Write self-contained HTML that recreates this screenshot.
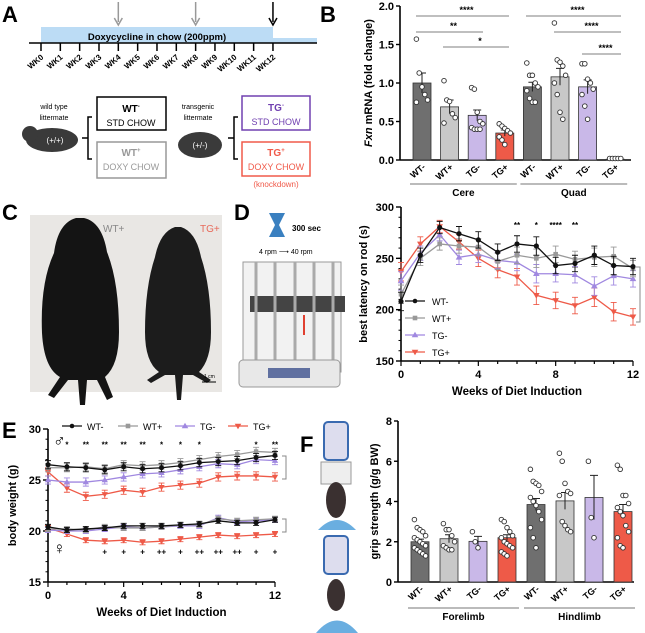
<!DOCTYPE html>
<html><head><meta charset="utf-8"><style>
html,body{margin:0;padding:0;background:#fff;}
svg{display:block;font-family:"Liberation Sans",Arial,sans-serif;}
</style></head><body>
<svg id="fig" width="645" height="633" viewBox="0 0 645 633" xmlns="http://www.w3.org/2000/svg">
<!-- Panel A -->
<g>
<text x="2" y="22" font-size="22" font-weight="bold">A</text>
<rect x="41" y="27" width="232" height="16" fill="#bcdcf5"/>
<rect x="273" y="38" width="44" height="5" fill="#bcdcf5"/>
<text x="157" y="40" font-size="9.5" font-weight="bold" text-anchor="middle">Doxycycline in chow (200ppm)</text>
<line x1="29" y1="43" x2="317" y2="43" stroke="#000" stroke-width="1.5"/>
<g id="tl"></g>
</g>
<g>
<text x="54" y="109" font-size="7" text-anchor="middle">wild type</text>
<text x="54" y="120" font-size="7" text-anchor="middle">littermate</text>
<ellipse cx="52" cy="140" rx="26" ry="12" fill="#3a3a3a"/>
<circle cx="30" cy="134" r="8" fill="#3a3a3a"/>
<text x="55" y="143" font-size="8" fill="#fff" text-anchor="middle">(+/+)</text>
<path d="M92 117 h-4 v42 h4 M88 138 h-6" stroke="#000" fill="none" stroke-width="1.5"/>
<rect x="97" y="97" width="69" height="33" fill="none" stroke="#000" stroke-width="1.5"/>
<text x="131" y="112" font-size="10" font-weight="bold" text-anchor="middle">WT<tspan font-size="6" dy="-4">-</tspan></text>
<text x="131" y="126" font-size="9" text-anchor="middle">STD CHOW</text>
<rect x="97" y="142" width="69" height="36" fill="none" stroke="#999" stroke-width="1.5"/>
<text x="131" y="156" font-size="10" font-weight="bold" fill="#999" text-anchor="middle">WT<tspan font-size="6" dy="-4">+</tspan></text>
<text x="131" y="170" font-size="9" fill="#999" text-anchor="middle">DOXY CHOW</text>
<text x="198" y="109" font-size="7" text-anchor="middle">transgenic</text>
<text x="198" y="120" font-size="7" text-anchor="middle">littermate</text>
<ellipse cx="200" cy="145" rx="22" ry="13" fill="#3a3a3a"/>
<text x="200" y="148" font-size="8" fill="#fff" text-anchor="middle">(+/-)</text>
<path d="M238 117 h-4 v42 h4 M234 138 h-6" stroke="#000" fill="none" stroke-width="1.5"/>
<rect x="242" y="96" width="68" height="34" fill="none" stroke="#7040b0" stroke-width="1.5"/>
<text x="276" y="111" font-size="10" font-weight="bold" fill="#7040b0" text-anchor="middle">TG<tspan font-size="6" dy="-4">-</tspan></text>
<text x="276" y="125" font-size="9" fill="#7040b0" text-anchor="middle">STD CHOW</text>
<rect x="242" y="142" width="68" height="34" fill="none" stroke="#f05a4a" stroke-width="1.5"/>
<text x="276" y="156" font-size="10" font-weight="bold" fill="#f05a4a" text-anchor="middle">TG<tspan font-size="6" dy="-4">+</tspan></text>
<text x="276" y="170" font-size="9" fill="#f05a4a" text-anchor="middle">DOXY CHOW</text>
<text x="276" y="187" font-size="8" fill="#f05a4a" text-anchor="middle">(knockdown)</text>
</g>
<!-- Panel C -->
<g>
<text x="2" y="220" font-size="22" font-weight="bold">C</text>
<rect x="30" y="215" width="192" height="177" fill="#e9e7e4"/>
<path d="M76 218 q-18 5 -22 35 q-14 30 -12 80 q2 35 18 44 l-12 18 l6 3 l14 -18 l10 0 l2 25 l5 0 l2 -25 l10 0 l10 20 l6 -3 l-8 -20 q14 -12 14 -45 q0 -50 -12 -80 q-5 -30 -23 -34z" fill="#141414"/>
<path d="M175 227 q-15 5 -20 30 q-10 30 -10 75 q0 30 14 40 l-12 8 l4 3 l14 -8 l10 0 l2 25 l4 0 l2 -25 l10 0 l14 8 l4 -3 l-12 -8 q12 -12 12 -40 q0 -45 -10 -75 q-5 -25 -20 -30z" fill="#1c1c1c"/>
<text x="103" y="232" font-size="10" fill="#888">WT+</text>
<text x="200" y="232" font-size="10" fill="#e86a5a">TG+</text>
<line x1="202" y1="382" x2="216" y2="382" stroke="#000"/><text x="204" y="378" font-size="5">1 cm</text>
</g>
<!-- Panel D schematic -->
<g>
<text x="234" y="220" font-size="22" font-weight="bold">D</text>
<path d="M269 213 h16 l-6 12 l6 12 h-16 l6 -12z" fill="#3a80c0"/>
<text x="292" y="231" font-size="8" font-weight="bold">300 sec</text>
<text x="259" y="254" font-size="7">4 rpm ⟶ 40 rpm</text>
<rect x="243" y="262" width="98" height="110" fill="#f2f2f2" stroke="#999"/>
<rect x="250" y="296" width="95" height="16" fill="#444"/>
<g stroke="#aaa" stroke-width="3"><line x1="256" y1="262" x2="256" y2="370"/><line x1="275" y1="262" x2="275" y2="370"/><line x1="295" y1="262" x2="295" y2="370"/><line x1="314" y1="262" x2="314" y2="370"/><line x1="333" y1="262" x2="333" y2="370"/></g>
<rect x="239" y="360" width="101" height="27" rx="4" fill="#e8e8e8" stroke="#999"/>
<rect x="268" y="368" width="42" height="10" fill="#6070a0"/>
<line x1="304" y1="315" x2="304" y2="335" stroke="#e04030" stroke-width="2"/>
</g>
<!-- Panel F schematic -->
<g>
<text x="300" y="452" font-size="22" font-weight="bold">F</text>
<rect x="324" y="422" width="24" height="38" rx="4" fill="#dde" stroke="#3a6ab0" stroke-width="2"/>
<rect x="321" y="462" width="30" height="22" fill="#eee" stroke="#999"/>
<ellipse cx="336" cy="500" rx="10" ry="18" fill="#3a3030"/>
<path d="M318 530 q19 -20 38 0 z" fill="#6aaee0"/>
<rect x="324" y="536" width="24" height="38" rx="4" fill="#dde" stroke="#3a6ab0" stroke-width="2"/>
<ellipse cx="336" cy="595" rx="9" ry="16" fill="#3a3030"/>
<path d="M316 633 q21 -25 42 0 z" fill="#6aaee0"/>
</g>
<text x="320" y="22" font-size="22" font-weight="bold">B</text>
<text x="2" y="438" font-size="22" font-weight="bold">E</text>
<g id="pb"></g>
<g id="pd"></g>
<g id="pe"></g>
<g id="pf"></g>
</svg>
<script>
const NS="http://www.w3.org/2000/svg";
function mk(p,t,a,txt){const e=document.createElementNS(NS,t);for(const k in a)e.setAttribute(k,a[k]);if(txt!==undefined)e.textContent=txt;p.appendChild(e);return e;}

// ---------- Data ----------
const tlWeeks=["WK0","WK1","WK2","WK3","WK4","WK5","WK6","WK7","WK8","WK9","WK10","WK11","WK12"];
const arrowWeeks=[4,8,12];

const bCats=["WT-","WT+","TG-","TG+","WT-","WT+","TG-","TG+"];
const bMeans=[1.0,0.69,0.58,0.35,0.95,1.08,0.95,0.01];
const bErr=[0.13,0.09,0.07,0.04,0.06,0.11,0.09,0.0];
const bPts=[[1.57,1.13,0.95,0.85,0.78,0.75],[1.03,0.78,0.76,0.6,0.55,0.48],[0.94,0.92,0.62,0.5,0.47,0.42,0.4,0.4,0.4],[0.47,0.44,0.41,0.38,0.35,0.3,0.26,0.2],[1.26,1.1,1.1,1.0,0.95,0.9,0.8,0.75,0.75],[1.78,1.3,1.27,1.22,1.1,1.0,0.85,0.62,0.53],[1.25,1.25,1.05,1.0,0.92,0.85,0.7,0.53],[0.02,0.02,0.02,0.02,0.02]];
const bTicks=[0,0.5,1.0,1.5,2.0];

const wks=[0,1,2,3,4,5,6,7,8,9,10,11,12];
const dWTm=[208,253,280,274,268,256,264,262,243,245,253,243,242];
const dWTp=[215,250,264,262,261,247,253,250,254,249,251,252,240];
const dTGm=[228,255,273,251,254,248,246,235,235,234,223,233,230];
const dTGp=[237,264,281,266,250,239,232,214,209,204,212,198,193];
const dErr=[9,7,6,7,8,8,8,9,8,8,9,9,8];
const dTicks=[150,200,250,300];

const eMWTm=[26.5,26.3,26.2,26.0,26.3,26.1,26.2,26.4,26.7,26.8,26.9,27.2,27.4];
const eMWTp=[26.2,26.2,26.3,26.1,26.5,26.4,26.5,26.7,27.0,27.3,27.5,27.8,27.7];
const eMTGm=[25.0,24.8,24.8,25.0,25.3,25.6,25.7,26.0,26.3,26.6,26.5,27.0,26.9];
const eMTGp=[25.8,24.2,23.4,23.6,24.0,23.8,24.3,24.5,24.7,25.3,25.4,25.4,25.3];
const eFWTm=[20.4,20.1,20.2,20.3,20.5,20.5,20.5,20.6,20.7,21.0,20.8,20.8,21.1];
const eFWTp=[20.2,20.2,20.1,20.4,20.3,20.3,20.4,20.6,20.6,21.2,21.0,21.1,21.2];
const eFTGm=[20.1,20.0,20.0,20.2,20.4,20.3,20.4,20.5,20.5,21.3,20.9,21.0,21.1];
const eFTGp=[20.3,19.7,19.1,19.0,19.1,18.9,19.0,19.2,19.4,19.6,19.5,19.6,19.7];
const eTicks=[15,20,25,30];
const eStarM=["","*","**","**","**","**","*","*","*","","","*","**"];
const eStarF=["","","","+","+","+","++","+","++","++","++","+","+"];

const fCats=["WT-","WT+","TG-","TG+","WT-","WT+","TG-","TG+"];
const fMeans=[2.0,2.15,2.02,2.2,3.85,4.03,4.2,3.5];
const fErr=[0.13,0.2,0.25,0.15,0.3,0.42,1.1,0.35];
const fPts=[[3.1,2.7,2.6,2.5,2.3,2.2,2.1,2.0,1.9,1.8,1.7,1.6,1.5,1.4,1.3],[2.9,2.6,2.6,2.3,2.0,1.8,1.7,1.6,1.6],[2.5,2.0,1.7],[3.1,3.0,2.7,2.5,2.3,2.2,2.0,1.9,1.8,1.7,1.5,1.4,1.3],[5.6,5.0,4.9,4.8,4.5,4.2,4.0,3.8,3.5,3.1,2.7,2.2,1.7],[6.4,6.0,4.9,4.5,4.4,4.3,3.0,2.8,2.6,2.5],[6.0,3.2,2.2],[5.8,5.6,4.3,4.3,3.9,3.7,3.5,3.3,2.8,2.5,2.2,1.8,1.7]];
const fTicks=[0,2,4,6,8];

const fills=["#6f6f6f","#c8c8c8","#c9b8e8","#ee5a48","#6f6f6f","#c8c8c8","#c9b8e8","#ee5a48"];

// ---------- Panel A timeline ----------
(function(){
  const g=document.getElementById('tl');
  const tx=i=>41+i*19.33;
  tlWeeks.forEach((w,i)=>{
    const l=mk(g,'line',{x1:tx(i),y1:43,x2:tx(i),y2:51,stroke:'#000','stroke-width':1.5});
    
    
    const t=mk(g,'text',{x:tx(i)+3,y:58,'font-size':8,'font-weight':'bold','text-anchor':'end',transform:`rotate(-40 ${tx(i)+3} 58)`},w);
    
    
  });
  arrowWeeks.forEach(w=>{
    const c=w===12?'#000':'#999';
    const a=mk(g,'path',{d:`M${tx(w)} 2 V22 M${tx(w)-4} 18 L${tx(w)} 25 L${tx(w)+4} 18`,stroke:c,fill:'none','stroke-width':1.5});
    
    
  });
})();

// ---------- Bar chart helper ----------
function barChart(g,o){
  const y=v=>o.y0-(v-o.vmin)/(o.vmax-o.vmin)*(o.y0-o.y1);
  mk(g,'line',{x1:o.ax,y1:o.y1,x2:o.ax,y2:o.y0,stroke:'#000','stroke-width':1.6});
  mk(g,'line',{x1:o.ax,y1:o.y0,x2:o.axEnd,y2:o.y0,stroke:'#000','stroke-width':1.6});
  o.ticks.forEach(t=>{
    mk(g,'line',{x1:o.ax-4,y1:y(t),x2:o.ax,y2:y(t),stroke:'#000','stroke-width':1.4});
    const tl=mk(g,'text',{x:o.ax-6,y:y(t)+4,'font-size':11,'font-weight':'bold','text-anchor':'end'},o.fmt(t));
    
    
  });
  o.means.forEach((m,i)=>{
    const cx=o.x0+i*o.dx;
    const b=mk(g,'rect',{x:cx-9,y:y(m),width:18,height:o.y0-y(m),fill:fills[i],stroke:'#333','stroke-width':0.8});
    
    
    const e=o.err[i];
    mk(g,'path',{d:`M${cx} ${y(m-e)} V${y(m+e)} M${cx-4} ${y(m+e)} H${cx+4}`,stroke:'#222',fill:'none','stroke-width':1});
    o.pts[i].forEach((p,j)=>{
      const off=((j%5)-2)*2.8;
      const d=mk(g,'circle',{cx:cx+off,cy:y(p),r:2.3,fill:'#fff',stroke:'#333','stroke-width':0.9});
      
      
    });
    const lx=cx+4,ly=o.y0+8;
    const t=mk(g,'text',{x:lx,y:ly,'font-size':9,'font-weight':'bold','text-anchor':'end',transform:`rotate(-40 ${lx} ${ly})`},o.cats[i]);
    
    
  });
  [[0,o.g1],[4,o.g2]].forEach(([s,n])=>{
    const xa=o.x0+s*o.dx-12,xb=o.x0+(s+3)*o.dx+12;
    mk(g,'line',{x1:xa,y1:o.gy,x2:xb,y2:o.gy,stroke:'#777','stroke-width':1});
    const t=mk(g,'text',{x:(xa+xb)/2,y:o.gy+12,'font-size':10,'font-weight':'bold','text-anchor':'middle'},n);
    
    
  });
  const yl=mk(g,'text',{x:o.ylx,y:(o.y0+o.y1)/2,'font-size':11,'font-weight':'bold','text-anchor':'middle',transform:`rotate(-90 ${o.ylx} ${(o.y0+o.y1)/2})`});
  yl.innerHTML=o.ylab;
  
  
  return y;
}

// Panel B
(function(){
  const g=document.getElementById('pb');
  barChart(g,{ax:400,axEnd:631,y0:160,y1:6,vmin:0,vmax:2,ticks:bTicks,fmt:t=>t.toFixed(1),means:bMeans,err:bErr,pts:bPts,cats:bCats,x0:422,dx:27.6,g1:'Cere',g2:'Quad',gy:184,ylx:372,ylab:'<tspan font-style="italic">Fxn</tspan> mRNA (fold change)'});
  const sig=[[422,503,16,'****'],[422,477,32,'**'],[449,503,47,'*'],[532,615,16,'****'],[560,615,32,'****'],[588,615,54,'****']];
  sig.forEach(([a,b,yy,s])=>{
    mk(g,'line',{x1:a-6,y1:yy,x2:b+6,y2:yy,stroke:'#555','stroke-width':0.8});
    const t=mk(g,'text',{x:(a+b)/2+4,y:yy-3,'font-size':9,'font-weight':'bold','text-anchor':'middle'},s);
    
    
  });
})();

// Panel F
(function(){
  const g=document.getElementById('pf');
  barChart(g,{ax:398,axEnd:634,y0:582,y1:421,vmin:0,vmax:8,ticks:fTicks,fmt:t=>String(t),means:fMeans,err:fErr,pts:fPts,cats:fCats,x0:420,dx:29,g1:'Forelimb',g2:'Hindlimb',gy:608,ylx:378,ylab:'grip strength (g/g BW)'});
})();

// Line chart helper
function lineAxes(g,o){
  const x=v=>o.ax+v/12*(o.xEnd-o.ax);
  const y=v=>o.y0-(v-o.vmin)/(o.vmax-o.vmin)*(o.y0-o.y1);
  mk(g,'line',{x1:o.ax,y1:o.y1,x2:o.ax,y2:o.y0,stroke:'#000','stroke-width':1.6});
  mk(g,'line',{x1:o.ax,y1:o.y0,x2:o.xEnd,y2:o.y0,stroke:'#000','stroke-width':1.6});
  for(let v=o.vmin;v<=o.vmax;v+=o.minor) mk(g,'line',{x1:o.ax-2.5,y1:y(v),x2:o.ax,y2:y(v),stroke:'#000','stroke-width':1});
  o.ticks.forEach(t=>{
    mk(g,'line',{x1:o.ax-5,y1:y(t),x2:o.ax,y2:y(t),stroke:'#000','stroke-width':1.4});
    const tl=mk(g,'text',{x:o.ax-7,y:y(t)+4,'font-size':11,'font-weight':'bold','text-anchor':'end'},String(t));
    
    
  });
  wks.forEach(w=>mk(g,'line',{x1:x(w),y1:o.y0,x2:x(w),y2:o.y0+(w%4?3:5),stroke:'#000','stroke-width':1.2}));
  [0,4,8,12].forEach(w=>{
    const t=mk(g,'text',{x:x(w),y:o.y0+17,'font-size':11,'font-weight':'bold','text-anchor':'middle'},String(w));
    
    
  });
  const xt=mk(g,'text',{x:(o.ax+o.xEnd)/2,y:o.y0+34,'font-size':11.5,'font-weight':'bold','text-anchor':'middle'},'Weeks of Diet Induction');
  
  
  const yl=mk(g,'text',{x:o.ylx,y:(o.y0+o.y1)/2,'font-size':11,'font-weight':'bold','text-anchor':'middle',transform:`rotate(-90 ${o.ylx} ${(o.y0+o.y1)/2})`},o.ylab);
  
  
  return {x,y};
}
function marker(g,shape,cx,cy,c,s){
  if(shape==='c') return mk(g,'circle',{cx,cy,r:s,fill:c});
  if(shape==='s') return mk(g,'rect',{x:cx-s,y:cy-s,width:2*s,height:2*s,fill:c});
  if(shape==='u') return mk(g,'path',{d:`M${cx} ${cy-s-1} L${cx+s+1} ${cy+s} L${cx-s-1} ${cy+s}Z`,fill:c});
  return mk(g,'path',{d:`M${cx} ${cy+s+1} L${cx+s+1} ${cy-s} L${cx-s-1} ${cy-s}Z`,fill:c});
}
function series(g,ax,vals,err,c,shape,name,s){
  const pts=wks.map((w,i)=>ax.x(w)+','+ax.y(vals[i])).join(' ');
  const pl=mk(g,'polyline',{points:pts,fill:'none',stroke:c,'stroke-width':1.3});
  
  
  wks.forEach((w,i)=>{
    const e=err[i];
    mk(g,'path',{d:`M${ax.x(w)} ${ax.y(vals[i]-e)} V${ax.y(vals[i]+e)} M${ax.x(w)-3} ${ax.y(vals[i]-e)} H${ax.x(w)+3} M${ax.x(w)-3} ${ax.y(vals[i]+e)} H${ax.x(w)+3}`,stroke:c,'stroke-width':0.9,fill:'none'});
    const m=marker(g,shape,ax.x(w),ax.y(vals[i]),c,s);
    
    
  });
}
const cols={wtm:'#111',wtp:'#999',tgm:'#a088e0',tgp:'#ee5a48'};

// Panel D
(function(){
  const g=document.getElementById('pd');
  const ax=lineAxes(g,{ax:401,xEnd:633,y0:361,y1:207,vmin:150,vmax:300,minor:10,ticks:dTicks,ylx:367,ylab:'best latency on rod (s)'});
  series(g,ax,dTGp,dErr,cols.tgp,'d','tg-plus',2.3);
  series(g,ax,dTGm,dErr,cols.tgm,'u','tg-minus',2.3);
  series(g,ax,dWTp,dErr,cols.wtp,'s','wt-plus',2.3);
  series(g,ax,dWTm,dErr,cols.wtm,'c','wt-minus',2.6);
  [[6,'**'],[7,'*'],[8,'****'],[9,'**']].forEach(([w,s])=>{
    const t=mk(g,'text',{x:ax.x(w),y:228,'font-size':8,'font-weight':'bold','text-anchor':'middle'},s);
    
    
  });
  mk(g,'path',{d:'M636 267 h4 v55 h-4',stroke:'#888',fill:'none'});
  [['WT-',cols.wtm,'c'],['WT+',cols.wtp,'s'],['TG-',cols.tgm,'u'],['TG+',cols.tgp,'d']].forEach(([n,c,sh],i)=>{
    const yy=301+i*17;
    mk(g,'line',{x1:405,y1:yy,x2:425,y2:yy,stroke:c,'stroke-width':1.3});
    marker(g,sh,415,yy,c,2.3);
    const t=mk(g,'text',{x:432,y:yy+4,'font-size':9},n);
    
    
  });
})();

// Panel E
(function(){
  const g=document.getElementById('pe');
  const ax=lineAxes(g,{ax:48,xEnd:275,y0:582,y1:429,vmin:15,vmax:30,minor:1,ticks:eTicks,ylx:16,ylab:'body weight (g)'});
  const er=wks.map(()=>0.4);
  const ef=wks.map(()=>0.25);
  series(g,ax,eMTGp,er,cols.tgp,'d','tg-plus-male',2.2);
  series(g,ax,eMTGm,er,cols.tgm,'u','tg-minus-male',2.2);
  series(g,ax,eMWTp,er,cols.wtp,'s','wt-plus-male',2.2);
  series(g,ax,eMWTm,er,cols.wtm,'c','wt-minus-male',2.5);
  series(g,ax,eFTGp,ef,cols.tgp,'d','tg-plus-female',2.2);
  series(g,ax,eFTGm,ef,cols.tgm,'u','tg-minus-female',2.2);
  series(g,ax,eFWTp,ef,cols.wtp,'s','wt-plus-female',2.2);
  series(g,ax,eFWTm,ef,cols.wtm,'c','wt-minus-female',2.5);
  wks.forEach((w,i)=>{
    if(eStarM[i]){const t=mk(g,'text',{x:ax.x(w),y:ax.y(28.2),'font-size':8,'font-weight':'bold','text-anchor':'middle'},eStarM[i]);
      
      }
    if(eStarF[i]){const t=mk(g,'text',{x:ax.x(w),y:ax.y(17.7),'font-size':8,'font-weight':'bold','text-anchor':'middle'},eStarF[i]);
      
      }
  });
  mk(g,'text',{x:53,y:446,'font-size':17,'font-weight':'bold'},'♂');
  mk(g,'text',{x:53,y:554,'font-size':17,'font-weight':'bold'},'♀');
  mk(g,'path',{d:'M282 456 h4 v23 h-4',stroke:'#888',fill:'none'});
  mk(g,'path',{d:'M282 519 h4 v13 h-4',stroke:'#888',fill:'none'});
  [['WT-',cols.wtm,'c',62],['WT+',cols.wtp,'s',118],['TG-',cols.tgm,'u',175],['TG+',cols.tgp,'d',228]].forEach(([n,c,sh,lx])=>{
    mk(g,'line',{x1:lx,y1:426,x2:lx+20,y2:426,stroke:c,'stroke-width':1.3});
    marker(g,sh,lx+10,426,c,2.3);
    const t=mk(g,'text',{x:lx+25,y:430,'font-size':9},n);
    
    
  });
})();
</script>
</body></html>
